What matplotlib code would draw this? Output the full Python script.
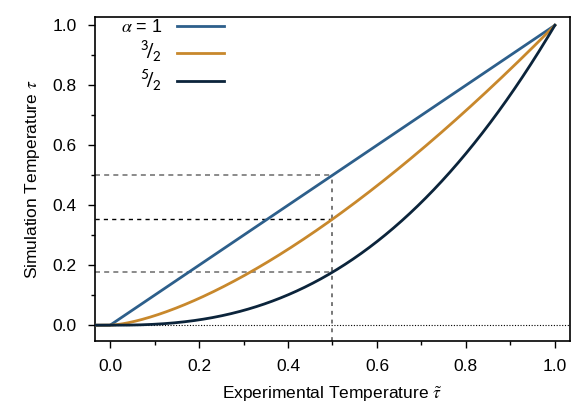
import numpy as np
import matplotlib
matplotlib.use("Agg")
import matplotlib.pyplot as plt

plt.rcParams["font.family"] = ["Liberation Sans", "DejaVu Sans"]
plt.rcParams["mathtext.fontset"] = "stix"

# exponents of tau = tau_exp ** alpha
alphas = [1.0, 1.5, 2.5]
labels = [r"$\alpha$ = 1", r"$^{\mathsf{3}}\!/_{\mathsf{2}}$", r"$^{\mathsf{5}}\!/_{\mathsf{2}}$"]
colors = ["#2d5f8b", "#c8882c", "#0b243b"]
ref_temp = 0.5
x_ticks = [0.0, 0.2, 0.4, 0.6, 0.8, 1.0]
y_ticks = [0.0, 0.2, 0.4, 0.6, 0.8, 1.0]

xmin, xmax = -0.034, 1.034
ymin, ymax = -0.053, 1.027

fig = plt.figure(figsize=(5.72, 4.09), dpi=100)
ax = fig.add_axes([0.166, 0.166, 0.8305, 0.792])

x = np.linspace(xmin, 1.0, 400)
for a, lab, c in zip(alphas, labels, colors):
    ax.plot(x, np.clip(x, 0, None) ** a, color=c, lw=2.0, label=lab, zorder=3)

# guide lines at the reference temperature
ax.axhline(0.0, color="black", lw=0.8, ls=(0, (1, 1.5)), zorder=1)
for a in alphas:
    yv = ref_temp ** a
    if a == 1.5:
        ax.hlines(yv, xmin, ref_temp, color="black", lw=1.0, ls=(0, (3, 3)), zorder=2)
    else:
        ax.hlines(yv, xmin, ref_temp, color="#777777", lw=1.2, ls=(0, (3, 2.5)), zorder=2)
ax.vlines(ref_temp, ymin, ref_temp ** alphas[0], color="#777777", lw=1.4,
          ls=(0, (2, 2.5)), zorder=2)

ax.set_xlim(xmin, xmax)
ax.set_ylim(ymin, ymax)
ax.set_xticks(x_ticks)
ax.set_yticks(y_ticks)
ax.set_xticks(np.arange(0.1, 1.0, 0.2), minor=True)
ax.set_yticks(np.arange(0.1, 1.0, 0.2), minor=True)
ax.set_xticklabels([f"{v:.1f}" for v in x_ticks])
ax.set_yticklabels([f"{v:.1f}" for v in y_ticks])
ax.tick_params(which="major", direction="out", length=5, width=1.0, labelsize=12.5, pad=8)
ax.tick_params(which="minor", direction="out", length=3, width=1.0)
for s in ax.spines.values():
    s.set_linewidth(1.2)

ax.set_xlabel(r"Experimental Temperature $\tilde{\tau}$", fontsize=12.5, labelpad=8)
ax.set_ylabel(r"Simulation Temperature $\tau$", fontsize=12.5, labelpad=8)

leg = ax.legend(loc="upper left", frameon=False, markerfirst=False, fontsize=13,
                handlelength=2.6, handletextpad=0.8, labelspacing=0.15,
                bbox_to_anchor=(0.02, 1.043))
for t in leg.get_texts()[1:]:
    t.set_fontsize(16)

fig.savefig("out.png", dpi=100)
